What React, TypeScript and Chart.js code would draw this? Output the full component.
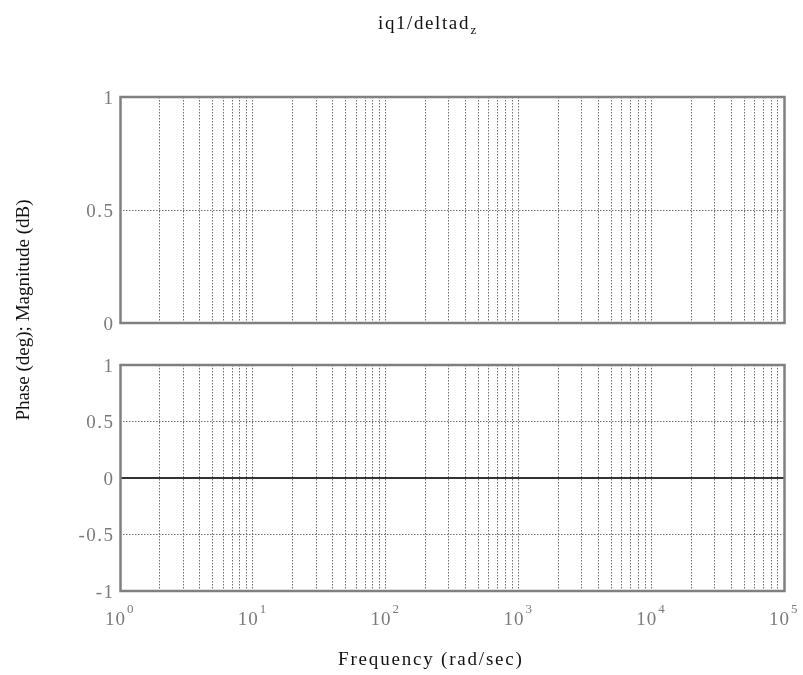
import { useEffect, useRef } from "react";
import { Chart, registerables } from "chart.js";

Chart.register(...registerables);

// Frequency response samples (rad/sec) and the two Bode traces.
const frequency = [1, 100000];
const magnitudeDb: (number | null)[] = [null, null]; // -Inf dB, nothing to plot
const phaseDeg = [0, 0];

// Axis ticks and labels
const xDecades = [1, 10, 100, 1000, 10000, 100000];
const xExponents = ["0", "1", "2", "3", "4", "5"];
const xMinorSteps = [2, 3, 4, 5, 6, 7, 8, 9];
const magTicks = [0, 0.5, 1];
const magTickLabels = ["0", "0.5", "1"];
const phaseTicks = [-1, -0.5, 0, 0.5, 1];
const phaseTickLabels = ["-1", "-0.5", "0", "0.5", "1"];

const titleMain = "iq1/deltad";
const titleSub = "z";
const yTitle = "Phase (deg); Magnitude (dB)";
const xTitle = "Frequency (rad/sec)";

const W = 803;
const H = 675;
const PLOT_LEFT = 120;
const PLOT_RIGHT = 784;
const MAG_TOP = 97;
const MAG_BOTTOM = 323;
const PHASE_TOP = 365;
const PHASE_BOTTOM = 591;

const SERIF = '"Liberation Serif", "Times New Roman", serif';
const AXIS_GRAY = "#808080";
const GRID_GRAY = "#6f6f6f";
const TEXT_GRAY = "#7a7a7a";

// Vertical grid: every decade plus its 2..9 subdivisions
const xGridValues: number[] = [];
xDecades.forEach((d, i) => {
  xGridValues.push(d);
  if (i < xDecades.length - 1) xMinorSteps.forEach((m) => xGridValues.push(d * m));
});

function drawText(
  ctx: CanvasRenderingContext2D,
  text: string,
  x: number,
  y: number,
  size: number,
  color: string,
  spacing: number,
  align: "left" | "center" | "right"
): number {
  ctx.save();
  ctx.font = `${size}px ${SERIF}`;
  ctx.fillStyle = color;
  (ctx as any).letterSpacing = `${spacing}px`;
  ctx.textAlign = "left";
  ctx.textBaseline = "alphabetic";
  const w = ctx.measureText(text).width - spacing;
  let x0 = x;
  if (align === "center") x0 = x - w / 2;
  if (align === "right") x0 = x - w;
  ctx.fillText(text, x0, y);
  ctx.restore();
  return w;
}

function makeDecorPlugin(
  id: string,
  yTickValues: number[],
  yTickText: string[],
  extra: (chart: Chart) => void
) {
  return {
    id,
    afterDraw(chart: Chart) {
      const ctx = chart.ctx;
      const a = chart.chartArea;
      // axes box
      ctx.save();
      ctx.strokeStyle = AXIS_GRAY;
      ctx.lineWidth = 2.5;
      ctx.strokeRect(a.left + 0.5, a.top, a.right - a.left, a.bottom - a.top);
      ctx.restore();
      // y tick labels
      const ys = chart.scales.y;
      yTickValues.forEach((v, i) => {
        const py = ys.getPixelForValue(v);
        drawText(ctx, yTickText[i], 113, py + 6.5, 19, TEXT_GRAY, 1.5, "right");
      });
      extra(chart);
    },
  };
}

function baseOptions(yMin: number, yMax: number, yTicks: number[], topPad: number, xHeight: number) {
  return {
    responsive: false,
    animation: false as const,
    layout: { padding: { top: topPad, right: W - PLOT_RIGHT, left: 0, bottom: 0 } },
    plugins: { legend: { display: false }, tooltip: { enabled: false }, title: { display: false } },
    scales: {
      x: {
        type: "logarithmic" as const,
        min: xDecades[0],
        max: xDecades[xDecades.length - 1],
        ticks: { display: false },
        grid: { color: GRID_GRAY, lineWidth: 1, drawTicks: false },
        border: { display: false, dash: [1.5, 1.5] },
        afterBuildTicks: (scale: any) => {
          scale.ticks = xGridValues.map((v) => ({ value: v }));
        },
        afterFit: (scale: any) => {
          scale.height = xHeight;
        },
      },
      y: {
        type: "linear" as const,
        min: yMin,
        max: yMax,
        ticks: { display: false },
        grid: { color: GRID_GRAY, lineWidth: 1, drawTicks: false },
        border: { display: false, dash: [1.5, 1.5] },
        afterBuildTicks: (scale: any) => {
          scale.ticks = yTicks.map((v) => ({ value: v }));
        },
        afterFit: (scale: any) => {
          scale.width = PLOT_LEFT;
        },
      },
    },
  };
}

export default function App() {
  const magRef = useRef<HTMLCanvasElement>(null);
  const phaseRef = useRef<HTMLCanvasElement>(null);

  useEffect(() => {
    const magPlugin = makeDecorPlugin("magDecor", magTicks, magTickLabels, (chart) => {
      const ctx = chart.ctx;
      // figure title with subscript
      const w = drawText(ctx, titleMain, 378, 29, 19, "#111", 1.6, "left");
      drawText(ctx, titleSub, 378 + w + 2, 34, 13, "#111", 0, "left");
      // shared y label
      ctx.save();
      ctx.translate(29, 310);
      ctx.rotate(-Math.PI / 2);
      drawText(ctx, yTitle, 0, 0, 19, "#111", 0, "center");
      ctx.restore();
    });

    const phasePlugin = makeDecorPlugin("phaseDecor", phaseTicks, phaseTickLabels, (chart) => {
      const ctx = chart.ctx;
      const xs = chart.scales.x;
      xDecades.forEach((d, i) => {
        const px = xs.getPixelForValue(d);
        drawText(ctx, "10", px + 5, 625, 19, TEXT_GRAY, 1, "right");
        drawText(ctx, xExponents[i], px + 7, 613, 13, TEXT_GRAY, 0, "left");
      });
      drawText(ctx, xTitle, 430, 665, 19, "#111", 1.8, "center");
    });

    const magChart = new Chart(magRef.current!, {
      type: "line",
      data: {
        datasets: [
          {
            data: frequency.map((f, i) => ({ x: f, y: magnitudeDb[i] as any })),
            borderColor: "#333",
            borderWidth: 2,
            pointRadius: 0,
          },
        ],
      },
      options: baseOptions(0, 1, magTicks, MAG_TOP, H - MAG_BOTTOM) as any,
      plugins: [magPlugin],
    });

    const phaseChart = new Chart(phaseRef.current!, {
      type: "line",
      data: {
        datasets: [
          {
            data: frequency.map((f, i) => ({ x: f, y: phaseDeg[i] })),
            borderColor: "#333",
            borderWidth: 2,
            pointRadius: 0,
          },
        ],
      },
      options: baseOptions(-1, 1, phaseTicks, PHASE_TOP, H - PHASE_BOTTOM) as any,
      plugins: [phasePlugin],
    });

    return () => {
      magChart.destroy();
      phaseChart.destroy();
    };
  }, []);

  const canvasStyle: React.CSSProperties = { position: "absolute", left: 0, top: 0 };
  return (
    <div style={{ position: "absolute", left: 0, top: 0, width: W, height: H, background: "#fff" }}>
      <canvas ref={magRef} width={W} height={H} style={canvasStyle} />
      <canvas ref={phaseRef} width={W} height={H} style={canvasStyle} />
    </div>
  );
}
